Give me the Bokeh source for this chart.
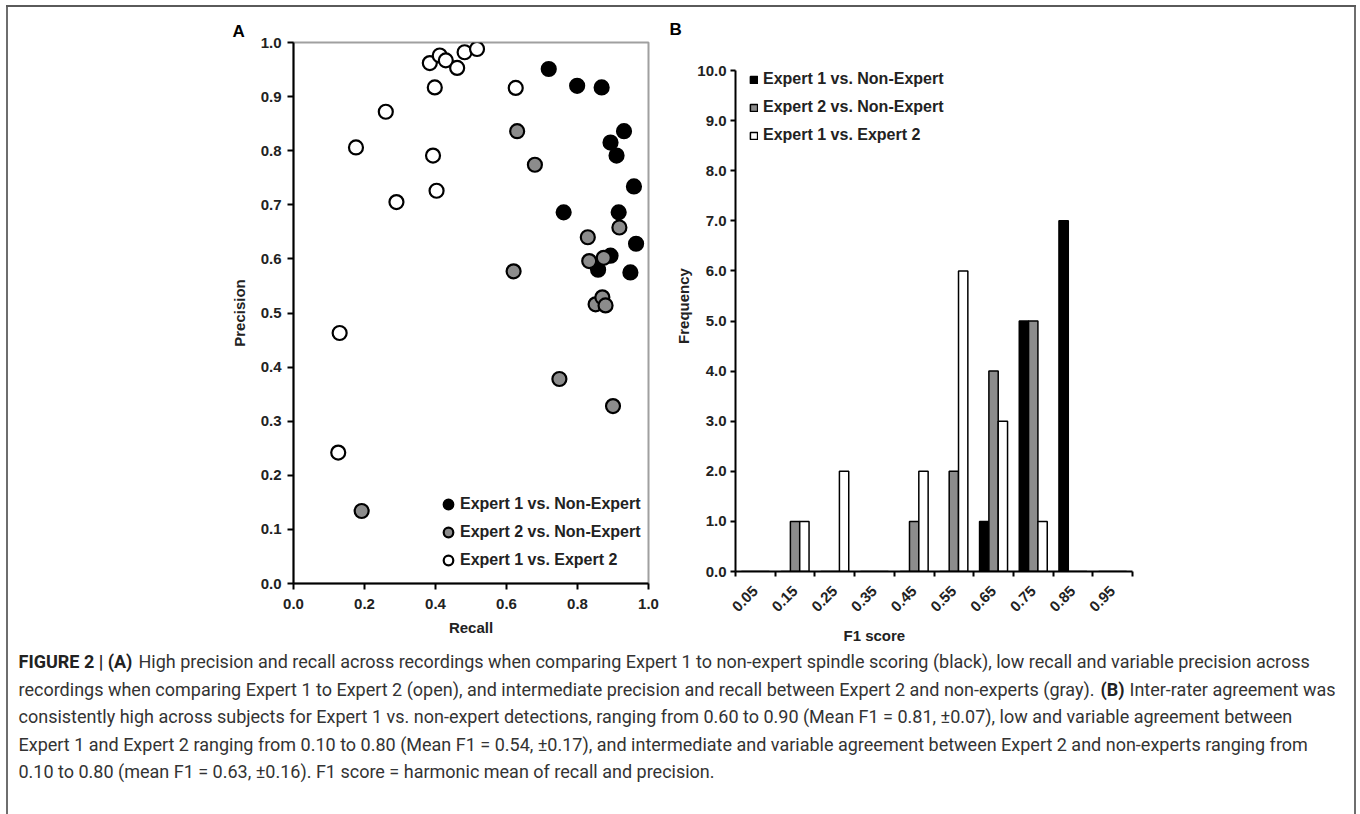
from bokeh.plotting import figure
from bokeh.models import (Range1d, FixedTicker, NumeralTickFormatter, Legend,
                          LegendItem, LinearAxis, Title, ColumnDataSource, Spacer)
from bokeh.transform import dodge
from bokeh.layouts import row, column
from bokeh.embed import file_html
from bokeh.resources import INLINE
from bokeh.core.properties import value

# ---------------- Panel A data (recall, precision) ----------------
e1ne_recall = [0.719, 0.799, 0.868, 0.931, 0.893, 0.910, 0.959, 0.761, 0.916, 0.965, 0.893, 0.858, 0.949]
e1ne_precision = [0.951, 0.920, 0.917, 0.836, 0.815, 0.791, 0.734, 0.686, 0.686, 0.628, 0.606, 0.580, 0.575]
e2ne_recall = [0.630, 0.680, 0.620, 0.829, 0.918, 0.833, 0.874, 0.851, 0.870, 0.879, 0.749, 0.900, 0.192]
e2ne_precision = [0.836, 0.774, 0.577, 0.640, 0.658, 0.596, 0.602, 0.516, 0.529, 0.514, 0.378, 0.328, 0.134]
e1e2_recall = [0.384, 0.412, 0.429, 0.461, 0.482, 0.517, 0.398, 0.626, 0.260, 0.176, 0.393, 0.403, 0.290, 0.130, 0.126]
e1e2_precision = [0.962, 0.976, 0.967, 0.953, 0.982, 0.988, 0.917, 0.916, 0.872, 0.806, 0.791, 0.726, 0.705, 0.463, 0.242]

a_x_ticks = [0.0, 0.2, 0.4, 0.6, 0.8, 1.0]
a_y_ticks = [0.0, 0.1, 0.2, 0.3, 0.4, 0.5, 0.6, 0.7, 0.8, 0.9, 1.0]

# ---------------- Panel B data (F1 histogram) ----------------
f1_bins = ["0.05", "0.15", "0.25", "0.35", "0.45", "0.55", "0.65", "0.75", "0.85", "0.95"]
freq_e1ne = [0, 0, 0, 0, 0, 0, 1, 5, 7, 0]
freq_e2ne = [0, 1, 0, 0, 1, 2, 4, 5, 0, 0]
freq_e1e2 = [0, 1, 2, 0, 2, 6, 3, 1, 0, 0]
b_y_ticks = [0, 1, 2, 3, 4, 5, 6, 7, 8, 9, 10]

series_labels = ["Expert 1 vs. Non-Expert", "Expert 2 vs. Non-Expert", "Expert 1 vs. Expert 2"]
GRAY = "#8c8c8c"
FONT = "Liberation Sans"
TXT = "#222222"

# ---------------- Panel A ----------------
pA = figure(width=658, height=641, x_range=Range1d(0, 1), y_range=Range1d(0, 1),
            output_backend="svg", toolbar_location=None,
            min_border_left=285, min_border_right=18, min_border_top=35, min_border_bottom=65)
pA.grid.visible = False
pA.outline_line_color = "#a0a0a0"
pA.outline_line_width = 2
for ax in (pA.xaxis[0], pA.yaxis[0]):
    ax.axis_line_width = 2
    ax.axis_line_color = "black"
    ax.major_tick_line_width = 2
    ax.major_tick_line_color = "black"
    ax.major_tick_out = 6
    ax.major_tick_in = 0
    ax.minor_tick_line_color = None
    ax.major_label_text_font = FONT
    ax.major_label_text_font_style = "bold"
    ax.major_label_text_font_size = "15px"
    ax.major_label_text_color = TXT
    ax.axis_label_text_font = FONT
    ax.axis_label_text_font_style = "bold"
    ax.axis_label_text_font_size = "15px"
    ax.axis_label_text_color = TXT
    ax.formatter = NumeralTickFormatter(format="0.0")
pA.xaxis.ticker = FixedTicker(ticks=a_x_ticks)
pA.yaxis.ticker = FixedTicker(ticks=a_y_ticks)
pA.xaxis.axis_label = "Recall"
pA.yaxis.axis_label = "Precision"
pA.xaxis.major_label_standoff = 9
pA.xaxis.axis_label_standoff = 7
pA.yaxis.major_label_standoff = 6
pA.yaxis.axis_label_standoff = 10

r_open = pA.scatter(e1e2_recall, e1e2_precision, size=14, fill_color="white",
                    line_color="black", line_width=2.2)
r_black = pA.scatter(e1ne_recall, e1ne_precision, size=14, fill_color="black",
                     line_color="black", line_width=2.2)
r_gray = pA.scatter(e2ne_recall, e2ne_precision, size=14, fill_color=GRAY,
                    line_color="black", line_width=2.2)

legA = Legend(items=[LegendItem(label=series_labels[0], renderers=[r_black]),
                     LegendItem(label=series_labels[1], renderers=[r_gray]),
                     LegendItem(label=series_labels[2], renderers=[r_open])],
              location=(143, 11), border_line_color=None, background_fill_alpha=0,
              padding=0, margin=0, spacing=4, glyph_width=24, glyph_height=24,
              label_standoff=-3, label_height=20,
              label_text_font=FONT, label_text_font_style="bold",
              label_text_font_size="16px", label_text_color=TXT)
pA.add_layout(legA)
pA.add_layout(Title(text="A", align="left", offset=-61, standoff=4, text_font=FONT,
                    text_font_style="bold", text_font_size="17px", text_color="black"), "above")

# ---------------- Panel B ----------------
bin_centers = [i + 0.5 for i in range(len(f1_bins))]
bin_edges = list(range(len(f1_bins) + 1))
srcB = ColumnDataSource(dict(xc=bin_centers, e1ne=freq_e1ne, e2ne=freq_e2ne, e1e2=freq_e1e2))
pB = figure(width=688, height=641, x_range=Range1d(0, len(f1_bins)), y_range=Range1d(0, 10.6),
            x_axis_type=None, output_backend="svg", toolbar_location=None,
            min_border_left=69, min_border_right=222, min_border_top=33, min_border_bottom=75)
pB.grid.visible = False
pB.outline_line_color = None

tick_axis = LinearAxis(ticker=FixedTicker(ticks=bin_edges),
                       axis_line_width=2, axis_line_color="black",
                       major_tick_line_width=2, major_tick_line_color="black",
                       major_tick_out=5, major_tick_in=0, minor_tick_line_color=None,
                       major_label_text_font_size="0px", major_label_standoff=0,
                       major_label_overrides={t: "" for t in bin_edges})
pB.add_layout(tick_axis, "below")
label_axis = LinearAxis(ticker=FixedTicker(ticks=bin_centers),
                        major_label_overrides={c: b for c, b in zip(bin_centers, f1_bins)},
                        axis_line_color=None, major_tick_line_color=None,
                        minor_tick_line_color=None, major_label_orientation=0.785398,
                        major_label_standoff=6, major_label_text_font=FONT,
                        major_label_text_font_style="bold", major_label_text_font_size="15px",
                        major_label_text_color=TXT)
pB.add_layout(label_axis, "below")
pB.add_layout(Title(text="F1 score", align="left", offset=108, standoff=10,
                    text_font=FONT, text_font_style="bold", text_font_size="15px",
                    text_color=TXT), "below")
pB.add_layout(Title(text="B", align="left", offset=-66, standoff=4, text_font=FONT,
                    text_font_style="bold", text_font_size="17px", text_color="black"), "above")

yB = pB.yaxis[0]
yB.bounds = (0, 10)
yB.axis_line_width = 2
yB.major_tick_line_width = 2
yB.major_tick_out = 5
yB.major_tick_in = 0
yB.minor_tick_line_color = None
yB.ticker = FixedTicker(ticks=b_y_ticks)
yB.formatter = NumeralTickFormatter(format="0.0")
yB.major_label_text_font = FONT
yB.major_label_text_font_style = "bold"
yB.major_label_text_font_size = "15px"
yB.major_label_text_color = TXT
yB.major_label_standoff = 4
yB.axis_label = "Frequency"
yB.axis_label_standoff = 2
yB.axis_label_text_font = FONT
yB.axis_label_text_font_style = "bold"
yB.axis_label_text_font_size = "15px"
yB.axis_label_text_color = TXT

bw = 0.235
rb1 = pB.vbar(x=dodge("xc", -bw), top="e1ne", width=bw, source=srcB,
              fill_color="black", line_color="black", line_width=1.5)
rb2 = pB.vbar(x=dodge("xc", 0.0), top="e2ne", width=bw, source=srcB,
              fill_color=GRAY, line_color="black", line_width=1.5)
rb3 = pB.vbar(x=dodge("xc", bw), top="e1e2", width=bw, source=srcB,
              fill_color="white", line_color="black", line_width=1.5)

legB = Legend(items=[LegendItem(label=series_labels[0], renderers=[rb1]),
                     LegendItem(label=series_labels[1], renderers=[rb2]),
                     LegendItem(label=series_labels[2], renderers=[rb3])],
              location=(14, 426), border_line_color=None, background_fill_alpha=0,
              padding=0, margin=0, spacing=8, glyph_width=9, glyph_height=9,
              label_standoff=5, label_height=20,
              label_text_font=FONT, label_text_font_style="bold",
              label_text_font_size="16px", label_text_color=TXT)
pB.add_layout(legB)

# ---------------- Caption ----------------
cap_normal = [
    "High precision and recall across recordings when comparing Expert 1 to non-expert spindle scoring (black), low recall and variable precision across",
    "recordings when comparing Expert 1 to Expert 2 (open), and intermediate precision and recall between Expert 2 and non-experts (gray).",
    "Inter-rater agreement was",
    "consistently high across subjects for Expert 1 vs. non-expert detections, ranging from 0.60 to 0.90 (Mean F1 = 0.81, \u00b10.07), low and variable agreement between",
    "Expert 1 and Expert 2 ranging from 0.10 to 0.80 (Mean F1 = 0.54, \u00b10.17), and intermediate and variable agreement between Expert 2 and non-experts ranging from",
    "0.10 to 0.80 (mean F1 = 0.63, \u00b10.16). F1 score = harmonic mean of recall and precision.",
]
cap_bold = ["FIGURE 2 | (A)", "(B)"]

pC = figure(width=1346, height=166, x_range=Range1d(0, 1346), y_range=Range1d(166, 0),
            output_backend="svg", toolbar_location=None, min_border=0,
            x_axis_type=None, y_axis_type=None)
pC.grid.visible = False
pC.outline_line_color = None
cap_src = ColumnDataSource(dict(x=[130, 10, 1121, 10, 10, 10], y=[13, 40.5, 40.5, 68, 95.5, 123],
                                t=cap_normal))
pC.text(x="x", y="y", text="t", source=cap_src, text_font=value("Roboto"),
        text_font_size="18px", text_baseline="middle", text_align="left", text_color="#333333")
capb_src = ColumnDataSource(dict(x=[10, 1092], y=[13, 40.5], t=cap_bold))
pC.text(x="x", y="y", text="t", source=capb_src, text_font=value("Roboto"),
        text_font_size="18px", text_font_style="bold", text_baseline="middle",
        text_align="left", text_color="#222222")

top_line = Spacer(width=1350, height=2, styles={"background-color": "#5a5a5a"})
left_line = Spacer(width=2, height=807, styles={"background-color": "#6e6e6e"})
right_line = Spacer(width=2, height=807, styles={"background-color": "#6e6e6e"})

content = column(row(column(pA), column(pB)), pC)
root = column(top_line, row(left_line, content, right_line), margin=(5, 0, 0, 6))

open("out.html", "w").write(file_html(root, INLINE))
